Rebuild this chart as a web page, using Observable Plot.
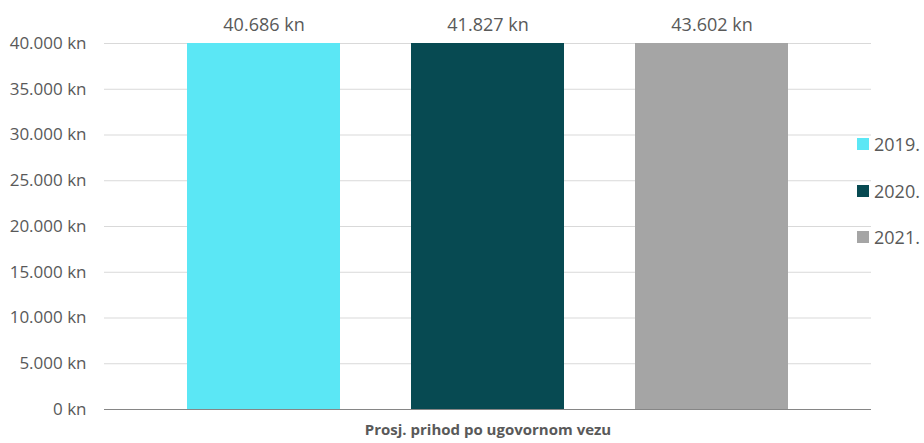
<!DOCTYPE html>
<html>
<head>
<meta charset="utf-8">
<script src="https://cdn.jsdelivr.net/npm/d3@7"></script>
<script src="https://cdn.jsdelivr.net/npm/@observablehq/plot@0.6"></script>
<style>
  html, body { margin: 0; padding: 0; background: #fff; }
  #wrap { position: relative; width: 924px; height: 443px; overflow: hidden; font-family: "Open Sans", sans-serif; }
  .leg { position: absolute; left: 857px; display: flex; align-items: center; font-size: 18px; line-height: 18px; color: #595959; white-space: nowrap; }
  .leg .sw { width: 12px; height: 12px; margin-right: 5px; }
</style>
</head>
<body>
<div id="wrap"></div>
<script>
const years = ["2019.", "2020.", "2021."];
const values = [40686, 41827, 43602];
const colors = ["#5BE7F5", "#074A52", "#A5A5A5"];
const yTicks = [0, 5000, 10000, 15000, 20000, 25000, 30000, 35000, 40000];
const caption = "Prosj. prihod po ugovornom vezu";

const data = years.map((y, i) => ({ year: y, value: values[i] }));
const fmt = v => d3.format(",")(v).replace(/,/g, ".") + " kn";

const chart = Plot.plot({
  width: 924,
  height: 443,
  marginLeft: 104,
  marginRight: 53,
  marginTop: 43,
  marginBottom: 34,
  style: { fontFamily: "Open Sans, sans-serif", color: "#595959", background: "#fff" },
  x: { domain: years, paddingInner: 0.318, paddingOuter: 0.367, axis: null },
  y: { domain: [0, 40000], ticks: yTicks, tickFormat: fmt, tickSize: 0, tickPadding: 18, label: null, grid: false },
  color: { domain: years, range: colors },
  marks: [
    Plot.ruleY(yTicks.filter(d => d > 0), { stroke: "#D9D9D9", strokeWidth: 1 }),
    Plot.barY(data, { x: "year", y: "value", fill: "year", clip: true }),
    Plot.ruleY([0], { stroke: "#868686", strokeWidth: 1 }),
    Plot.axisY({ ticks: yTicks, tickFormat: fmt, tickSize: 0, tickPadding: 18, fontSize: 17, fill: "#595959", label: null }),
    Plot.text(data, { x: "year", text: d => fmt(d.value), frameAnchor: "top", dy: -25, fontSize: 18, fill: "#595959" }),
    Plot.text([caption], { text: d => d, frameAnchor: "bottom", dy: 25, fontSize: 15, fontWeight: "bold", fill: "#595959" })
  ]
});
const wrap = document.getElementById("wrap");
wrap.appendChild(chart);

const legTops = [135, 182, 228];
years.forEach((y, i) => {
  const d = document.createElement("div");
  d.className = "leg";
  d.style.top = legTops[i] + "px";
  d.innerHTML = `<span class="sw" style="background:${colors[i]}"></span><span>${y}</span>`;
  wrap.appendChild(d);
});
</script>
</body>
</html>
